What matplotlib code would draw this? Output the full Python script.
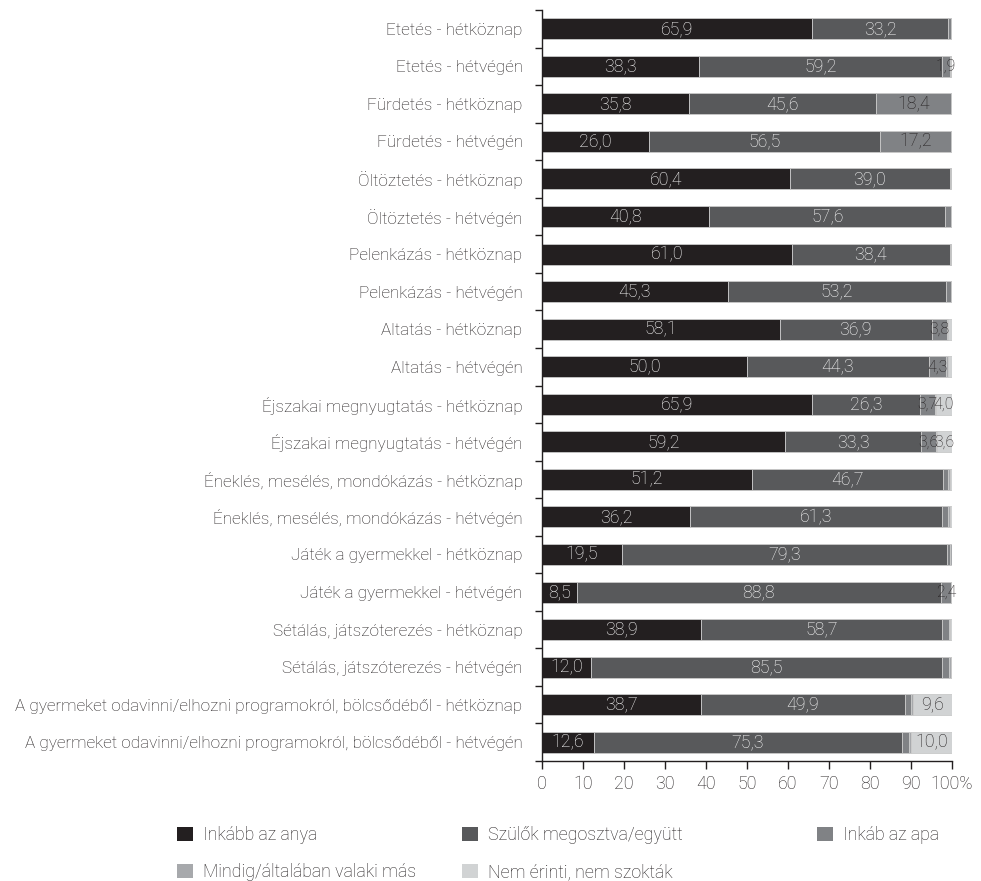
import matplotlib
matplotlib.use('Agg')
import matplotlib.pyplot as plt
import matplotlib.transforms as mtransforms
import numpy as np
from matplotlib.patches import Patch

categories = [
    'Etetés - hétköznap', 'Etetés - hétvégén',
    'Fürdetés - hétköznap', 'Fürdetés - hétvégén',
    'Öltöztetés - hétköznap', 'Öltöztetés - hétvégén',
    'Pelenkázás - hétköznap', 'Pelenkázás - hétvégén',
    'Altatás - hétköznap', 'Altatás - hétvégén',
    'Éjszakai megnyugtatás - hétköznap', 'Éjszakai megnyugtatás - hétvégén',
    'Éneklés, mesélés, mondókázás - hétköznap', 'Éneklés, mesélés, mondókázás - hétvégén',
    'Játék a gyermekkel - hétköznap', 'Játék a gyermekkel - hétvégén',
    'Sétálás, játszóterezés - hétköznap', 'Sétálás, játszóterezés - hétvégén',
    'A gyermeket odavinni/elhozni programokról, bölcsődéből - hétköznap',
    'A gyermeket odavinni/elhozni programokról, bölcsődéből - hétvégén',
]
anya   = [65.9, 38.3, 35.8, 26.0, 60.4, 40.8, 61.0, 45.3, 58.1, 50.0, 65.9, 59.2, 51.2, 36.2, 19.5, 8.5, 38.9, 12.0, 38.7, 12.6]
szulok = [33.2, 59.2, 45.6, 56.5, 39.0, 57.6, 38.4, 53.2, 36.9, 44.3, 26.3, 33.3, 46.7, 61.3, 79.3, 88.8, 58.7, 85.5, 49.9, 75.3]
apa    = [0.6, 1.9, 18.4, 17.2, 0.4, 1.3, 0.4, 1.2, 3.8, 4.3, 3.7, 3.6, 1.2, 1.6, 0.8, 2.4, 1.6, 1.8, 1.5, 1.7]
mas    = [0.2, 0.3, 0.2, 0.3, 0.2, 0.3, 0.2, 0.3, 0.3, 0.4, 0.1, 0.3, 0.5, 0.5, 0.4, 0.3, 0.4, 0.4, 0.3, 0.4]
nem    = [0.1, 0.3, 0.0, 0.0, 0.0, 0.0, 0.0, 0.0, 0.9, 1.0, 4.0, 3.6, 0.4, 0.4, 0.0, 0.0, 0.4, 0.3, 9.6, 10.0]

series_names = ['Inkább az anya', 'Szülők megosztva/együtt', 'Inkáb az apa',
                'Mindig/általában valaki más', 'Nem érinti, nem szokták']
x_ticks = [0, 10, 20, 30, 40, 50, 60, 70, 80, 90, 100]
x_tick_labels = ['0', '10', '20', '30', '40', '50', '60', '70', '80', '90', '100%']

colors = ['#231f20', '#58595b', '#808285', '#a7a9ac', '#d1d3d4']
label_colors = ['white', 'white', '#231f20', '#231f20', '#231f20']

plt.rcParams['font.family'] = ['Roboto', 'DejaVu Sans']
plt.rcParams['font.weight'] = 'light'
txt_color = '#231f20'
FS = 12.8
FS_CAT = 12.3
FS_SMALL = 11.3

fig = plt.figure(figsize=(9.81, 8.81), dpi=100)
ax = fig.add_axes([542 / 981, 1 - 761 / 881, 410 / 981, 751 / 881])

y = np.arange(len(categories))
left = np.zeros(len(categories))
handles = []
for vals, name, c, tc in zip([anya, szulok, apa, mas, nem], series_names, colors, label_colors):
    vals = np.array(vals)
    bars = ax.barh(y, vals, left=left, height=0.56, color=c, edgecolor='#c9c9c9',
                   linewidth=0.6, label=name)
    labs = [f'{v:.1f}'.replace('.', ',') if v >= 1.85 else '' for v in vals]
    texts = ax.bar_label(bars, labels=labs, label_type='center', color=tc, fontsize=FS,
                         fontweight='light')
    for t, v in zip(texts, vals):
        if v < 5:
            t.set_fontsize(FS_SMALL)
    left += vals
    handles.append(Patch(facecolor=c, edgecolor='none'))

ax.set_xlim(0, 100)
ax.set_ylim(len(categories) - 0.5, -0.5)
ax.set_xticks(x_ticks)
ax.set_xticklabels(x_tick_labels, fontsize=FS, color=txt_color)
last = ax.get_xticklabels()[-1]
last.set_transform(last.get_transform() + mtransforms.ScaledTranslation(8 / 100, 0, fig.dpi_scale_trans))
ax.set_yticks(y)
ax.set_yticklabels(categories, fontsize=FS_CAT, color=txt_color)
ax.set_yticks(np.arange(-0.5, len(categories), 1), minor=True)
ax.tick_params(axis='y', which='major', length=0, pad=14)
ax.tick_params(axis='y', which='minor', length=5, width=1, color=txt_color)
ax.tick_params(axis='x', length=6, width=1, color=txt_color, pad=4)
for s in ['top', 'right']:
    ax.spines[s].set_visible(False)
for s in ['left', 'bottom']:
    ax.spines[s].set_color(txt_color)
    ax.spines[s].set_linewidth(1)

leg_groups = [([0, 3], 177), ([1, 4], 462), ([2], 817)]
for idx, xpx in leg_groups:
    fig.legend([handles[i] for i in idx], [series_names[i] for i in idx],
               loc='upper left', bbox_to_anchor=(xpx / 981, 1 - 826 / 881),
               frameon=False, fontsize=FS, handlelength=0.88, handleheight=0.88,
               handletextpad=0.6, labelspacing=1.08, borderpad=0, borderaxespad=0,
               labelcolor=txt_color)

fig.savefig('out.png', dpi=100)
